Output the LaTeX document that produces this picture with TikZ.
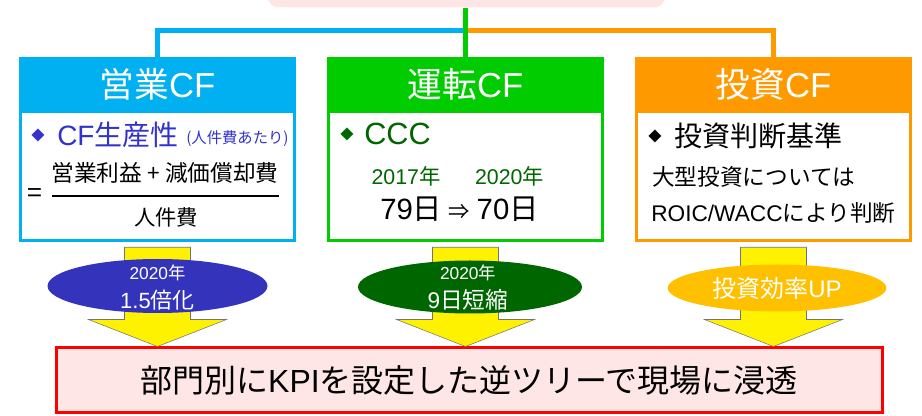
\documentclass[tikz,border=0pt]{standalone}
\usepackage{fontspec}
\setmainfont{Noto Sans CJK JP}
\newfontfamily\latfont{Liberation Sans}
\usepackage{tikz}
\usetikzlibrary{shapes.geometric,calc}

\definecolor{cfblue}{RGB}{0,176,240}
\definecolor{cfgreen}{RGB}{0,204,0}
\definecolor{cforange}{RGB}{255,153,0}
\definecolor{kpipink}{RGB}{255,230,230}
\definecolor{prodblue}{RGB}{51,51,204}
\definecolor{cccgreen}{RGB}{0,102,0}
\definecolor{ellblue}{RGB}{51,51,187}
\definecolor{ellgold}{RGB}{255,192,0}

\newcommand{\fsz}[1]{\fontsize{#1}{#1}\selectfont}

\tikzset{
  cfbox/.style={fill=#1, minimum width=207.75pt, minimum height=138.75pt},
  cfinner/.style={fill=white, minimum width=203.25pt, minimum height=94.5pt},
  cfhead/.style={text=white, font=\fsz{26}},
  cfline/.style={draw=#1, line width=4pt},
  goal/.style={ellipse, fill=#1},
  goaltxt/.style={text=white},
  bigarrow/.style={fill=yellow, draw=black!55, line width=0.4pt},
}

\begin{document}
\begin{tikzpicture}[x=0.75pt,y=0.75pt,yscale=-1,xscale=1,every node/.style={inner sep=0pt}]
\useasboundingbox (0,0) rectangle (922,416);
\clip (0,0) rectangle (922,416);

%Top box (cut off)
\node[fill=kpipink, rounded corners=8pt, minimum width=297.75pt, minimum height=30pt] (top) at (466.5,-12.5) {};

%Three CF boxes
\node[cfbox=cfblue] (eigyo) at (157.5,149.5) {};
\node[cfinner] (eigyoin) at (157.5,176) {};
\node[cfbox=cfgreen] (unten) at (465.5,149.5) {};
\node[cfinner] (untenin) at (465.5,176) {};
\node[cfbox=cforange] (toushi) at (773.5,149.5) {};
\node[cfinner] (toushiin) at (773.5,176) {};

%Tree lines
\coordinate (hub) at (465.5,30.5);
\draw[cfline=cfblue] (hub) -| (eigyo.north);
\draw[cfline=cforange] (hub) -| (toushi.north);
\draw[cfline=cfgreen] (unten.north |- top.south) -- (unten.north);

% Headers
\node[cfhead] (eigyohd) at (157.5,84) {営業{\latfont CF}};
\node[cfhead] (untenhd) at (465.5,84) {運転{\latfont CF}};
\node[cfhead] (toushihd) at (773.5,84) {投資{\latfont CF}};

% Text Node: CF productivity
\node[text=prodblue, font=\fsz{10}] (proddia) at (38,135) {◆};
\node[text=prodblue, font=\fsz{21}, anchor=west] (prodlbl) at (57,135) {{\latfont CF}生産性};
\node[text=prodblue, font=\fsz{11.5}, anchor=west] (prodsub) at (186,139) {(人件費あたり)};
\node[font=\fsz{17}] (numer) at (165,173) {営業利益 + 減価償却費};
\draw[line width=2pt] (52,196) -- (279,196);
\node[font=\fsz{20}] (eqsign) at (35,196) {=};
\node[font=\fsz{16}] (denom) at (166,217) {人件費};

% Text Node: CCC
\node[text=cccgreen, font=\fsz{10}] (cccdia) at (347,134) {◆};
\node[text=cccgreen, font={\fsz{23}\latfont}, anchor=west] (ccclbl) at (364,134) {CCC};
\node[text=cccgreen, font=\fsz{16}] (yrfrom) at (406,176) {{\latfont 2017}年};
\node[text=cccgreen, font=\fsz{16}] (yrto) at (509.5,176) {{\latfont 2020}年};
\node[font=\fsz{22}] (cccdays) at (459.5,209) {{\latfont 79}日 {\fsz{16}⇒} {\latfont 70}日};

% Text Node: investment
\node[font=\fsz{10}] (invdia) at (655,136) {◆};
\node[font=\fsz{21}, anchor=west] (invlbl) at (674,136) {投資判断基準};
\node[font=\fsz{17}, anchor=west] (invla) at (652,177) {大型投資については};
\node[font=\fsz{17}, anchor=west] (invlb) at (651,213) {{\latfont ROIC/WACC}により判断};

%Bottom box
\node[draw=red, line width=2.25pt, fill=kpipink, minimum width=619.5pt, minimum height=48.75pt, font=\fsz{24}] (kpi) at (469,380.5) {部門別に{\latfont KPI}を設定した逆ツリーで現場に浸透};

%Block arrows
\foreach \b in {eigyo,unten,toushi}
  \path[bigarrow] ($(\b.south)+(0,5)$) ++(-33,0) -- ++(66,0) -- ($(\b.south |- kpi.north)+(33,-27)$) -- ++(36,0) -- (\b.south |- kpi.north) -- ++(-69,-27) -- ++(36,0) -- cycle;

%Goal ellipses
\node[goal=ellblue, minimum width=165pt, minimum height=40.5pt] (goala) at (157.5,286) {};
\node[goaltxt, font=\fsz{13}] (goalayr) at (157.5,273) {{\latfont 2020}年};
\node[goaltxt, font=\fsz{16.5}] (goalaval) at (157.5,300) {{\latfont 1.5}倍化};
\node[goal=cccgreen, minimum width=168pt, minimum height=39.75pt] (goalb) at (470,287) {};
\node[goaltxt, font=\fsz{13}] (goalbyr) at (468,273) {{\latfont 2020}年};
\node[goaltxt, font=\fsz{17}] (goalbval) at (468,300) {{\latfont 9}日短縮};
\node[goal=ellgold, minimum width=164pt, minimum height=35.25pt] (goalc) at (777,288) {};
\node[goaltxt, font=\fsz{18}] (goalcval) at (777,288) {投資効率{\latfont UP}};

\end{tikzpicture}
\end{document}
